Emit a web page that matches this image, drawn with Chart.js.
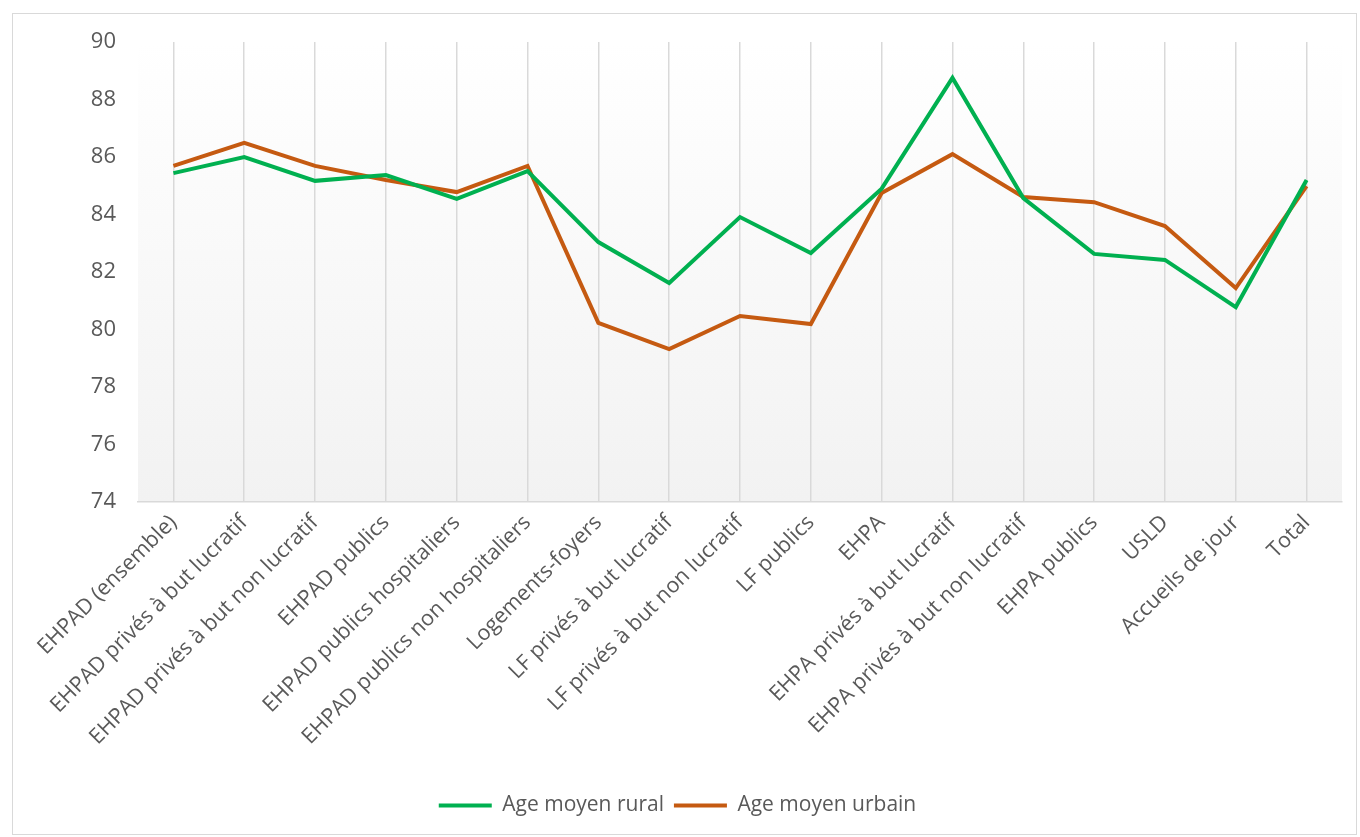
<!DOCTYPE html>
<html>
<head>
<meta charset="utf-8">
<script src="https://cdn.jsdelivr.net/npm/chart.js@4.4.1/dist/chart.umd.min.js"></script>
<style>
html,body{margin:0;padding:0;background:#fff;}
#wrap{position:absolute;left:12px;top:13px;width:1343px;height:820px;border:1px solid #d9d9d9;}
canvas{display:block;}
</style>
</head>
<body>
<div id="wrap"><canvas id="c" width="1343" height="820"></canvas></div>
<script>
const categories = ["EHPAD (ensemble)","EHPAD privés à but lucratif","EHPAD privés à but non lucratif","EHPAD publics","EHPAD publics hospitaliers","EHPAD publics non hospitaliers","Logements-foyers","LF privés à but lucratif","LF privés à but non lucratif","LF publics","EHPA","EHPA privés à but lucratif","EHPA privés à but non lucratif","EHPA publics","USLD","Accueils de jour","Total"];
const ruralValues = [85.44,86.0,85.17,85.37,84.54,85.51,83.04,81.62,83.91,82.66,84.9,88.75,84.57,82.63,82.42,80.78,85.2];
const urbanValues = [85.69,86.49,85.69,85.2,84.78,85.69,80.23,79.32,80.47,80.19,84.75,86.1,84.61,84.43,83.6,81.44,84.99];
const yTicks = [74,76,78,80,82,84,86,88,90];

const FONT = "'Open Sans', sans-serif";
const bgPlugin = {
  id:'bg',
  beforeDraw(chart){
    const {ctx, chartArea:a} = chart;
    const g = ctx.createLinearGradient(0,a.top,0,a.bottom);
    g.addColorStop(0,'#ffffff');
    g.addColorStop(1,'#f2f2f2');
    ctx.save();
    ctx.fillStyle = g;
    ctx.fillRect(a.left,a.top,a.right-a.left,a.bottom-a.top);
    ctx.restore();
  }
};

new Chart(document.getElementById('c'), {
  type:'line',
  data:{
    labels: categories,
    datasets:[
      {label:'Age moyen rural', data: ruralValues, borderColor:'#00B050', backgroundColor:'#00B050', borderWidth:4, pointRadius:0, tension:0},
      {label:'Age moyen urbain', data: urbanValues, borderColor:'#C55A11', backgroundColor:'#C55A11', borderWidth:4, pointRadius:0, tension:0}
    ]
  },
  options:{
    responsive:false,
    animation:false,
    layout:{padding:{top:28,right:14,left:0,bottom:8}},
    plugins:{
      legend:{
        position:'bottom',
        labels:{
          usePointStyle:true, pointStyle:'line', pointStyleWidth:53,
          color:'#595959', font:{family:FONT,size:21}, padding:10, boxHeight:3
        }
      },
      tooltip:{enabled:false}
    },
    scales:{
      x:{
        offset:true,
        grid:{display:true, color:'#d9d9d9', lineWidth:1.5, drawTicks:false, offset:false},
        border:{display:true, color:'#d9d9d9', width:1.5},
        ticks:{color:'#595959', font:{family:FONT,size:21.5}, maxRotation:45, minRotation:45, autoSkip:false, padding:8},
        afterFit(s){ s.height = 283; }
      },
      y:{
        min:74, max:90,
        afterBuildTicks(s){ s.ticks = yTicks.map(v=>({value:v})); },
        grid:{display:false, drawTicks:false},
        border:{display:false},
        ticks:{color:'#595959', font:{family:FONT,size:22}, padding:22},
        afterFit(s){ s.width = 125; s.paddingTop = 0; s.paddingBottom = 0; }
      }
    }
  },
  plugins:[bgPlugin]
});
</script>
</body>
</html>
